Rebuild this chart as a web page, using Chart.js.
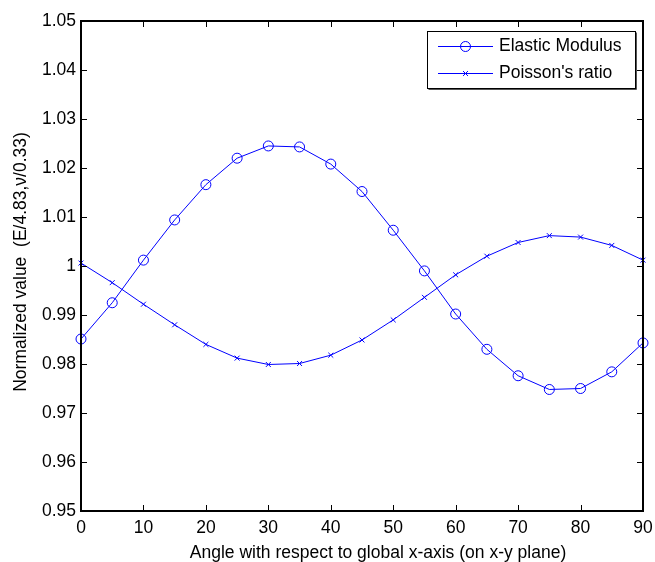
<!DOCTYPE html>
<html>
<head>
<meta charset="utf-8">
<script src="https://cdn.jsdelivr.net/npm/chart.js@4.4.0/dist/chart.umd.min.js"></script>
<style>
  html, body { margin: 0; padding: 0; background: #fff; }
</style>
</head>
<body>
<canvas id="myChart" width="655" height="562"></canvas>
<script>
var angles = [0, 5, 10, 15, 20, 25, 30, 35, 40, 45, 50, 55, 60, 65, 70, 75, 80, 85, 90];
var elasticModulus = [0.9851, 0.9925, 1.0012, 1.0094, 1.0166, 1.0220, 1.0245, 1.0243, 1.0208, 1.0152,
  1.0073, 0.9990, 0.9902, 0.9830, 0.9776, 0.9748, 0.9750, 0.9784, 0.9843];
var poissonRatio = [1.0006, 0.9966, 0.9922, 0.9880, 0.9840, 0.9812, 0.9799, 0.9801, 0.9818, 0.9849,
  0.9890, 0.9936, 0.9982, 1.0020, 1.0048, 1.0062, 1.0059, 1.0042, 1.0012];
var xTicks = [0, 10, 20, 30, 40, 50, 60, 70, 80, 90];
var yTicks = [0.95, 0.96, 0.97, 0.98, 0.99, 1.00, 1.01, 1.02, 1.03, 1.04, 1.05];
var yTickLabels = ["0.95", "0.96", "0.97", "0.98", "0.99", "1", "1.01", "1.02", "1.03", "1.04", "1.05"];
var seriesNames = ["Elastic Modulus", "Poisson's ratio"];
var xTitle = "Angle with respect to global x-axis (on x-y plane)";
var yTitle = "Normalized value  (E/4.83,\u03bd/0.33)";

var FAMILY = "'Liberation Sans', Arial, sans-serif";
var FSIZE = 17.5;
var BLUE = "#0000ff";

function marker(c, style, x, y, r) {
  c.beginPath();
  if (style === "circle") {
    c.arc(x, y, r, 0, Math.PI * 2);
  } else {
    var d = r * Math.SQRT1_2;
    c.moveTo(x - d, y - d); c.lineTo(x + d, y + d);
    c.moveTo(x + d, y - d); c.lineTo(x - d, y + d);
  }
  c.stroke();
}

// MATLAB style box, inward ticks, axis titles and legend
var matlabAxes = {
  id: "matlabAxes",
  afterDraw: function(chart) {
    var c = chart.ctx, a = chart.chartArea;
    var xs = chart.scales.x, ys = chart.scales.y;
    c.save();
    c.strokeStyle = "#000";
    c.lineWidth = 2;
    c.strokeRect(a.left, a.top, a.right - a.left, a.bottom - a.top);

    c.lineWidth = 1;
    c.beginPath();
    xTicks.forEach(function(v) {
      var px = Math.round(xs.getPixelForValue(v)) + 0.5;
      c.moveTo(px, a.bottom); c.lineTo(px, a.bottom - 6);
      c.moveTo(px, a.top); c.lineTo(px, a.top + 6);
    });
    yTicks.forEach(function(v) {
      var py = Math.round(ys.getPixelForValue(v)) + 0.5;
      c.moveTo(a.left, py); c.lineTo(a.left + 6, py);
      c.moveTo(a.right, py); c.lineTo(a.right - 6, py);
    });
    c.stroke();

    // axis titles
    c.fillStyle = "#000";
    c.font = FSIZE + "px " + FAMILY;
    c.textAlign = "center";
    c.textBaseline = "alphabetic";
    c.fillText(xTitle, 378, 558);
    c.save();
    c.translate(26, 262);
    c.rotate(-Math.PI / 2);
    c.fillText(yTitle, 0, 0);
    c.restore();

    // legend
    var lx = 427.5, ly = 31.5, lw = 208, lh = 57;
    c.fillStyle = "#fff";
    c.fillRect(lx, ly, lw, lh);
    c.strokeStyle = "#555";
    c.beginPath();
    c.moveTo(lx + lw + 1, ly + 1); c.lineTo(lx + lw + 1, ly + lh + 1); c.lineTo(lx + 1, ly + lh + 1);
    c.stroke();
    c.strokeStyle = "#000";
    c.strokeRect(lx, ly, lw, lh);
    chart.data.datasets.forEach(function(ds, i) {
      var ry = 46 + i * 27;
      c.strokeStyle = ds.borderColor;
      c.lineWidth = 1;
      c.beginPath();
      c.moveTo(438, ry + 0.5); c.lineTo(493, ry + 0.5);
      c.stroke();
      marker(c, ds.pointStyle, 465.5, ry + 0.5, ds.pointRadius);
      c.fillStyle = "#000";
      c.textAlign = "left";
      c.textBaseline = "middle";
      c.fillText(ds.label, 499, ry);
    });
    c.restore();
  }
};

var ctx = document.getElementById("myChart").getContext("2d");
var myChart = new Chart(ctx, {
  type: "line",
  data: {
    datasets: [{
      label: seriesNames[0],
      data: angles.map(function(a, i) { return { x: a, y: elasticModulus[i] }; }),
      borderColor: BLUE,
      borderWidth: 1,
      pointStyle: "circle",
      pointRadius: 5,
      pointBorderWidth: 1,
      pointBorderColor: BLUE,
      pointBackgroundColor: "rgba(0,0,0,0)",
      tension: 0,
      fill: false,
      clip: false
    }, {
      label: seriesNames[1],
      data: angles.map(function(a, i) { return { x: a, y: poissonRatio[i] }; }),
      borderColor: BLUE,
      borderWidth: 1,
      pointStyle: "crossRot",
      pointRadius: 3.5,
      pointBorderWidth: 1,
      pointBorderColor: BLUE,
      pointBackgroundColor: "rgba(0,0,0,0)",
      tension: 0,
      fill: false,
      clip: false
    }]
  },
  options: {
    responsive: false,
    animation: false,
    layout: { padding: { top: 21, right: 12, left: 0, bottom: 0 } },
    plugins: {
      legend: { display: false },
      tooltip: { enabled: false }
    },
    scales: {
      x: {
        type: "linear",
        min: 0,
        max: 90,
        afterBuildTicks: function(s) { s.ticks = xTicks.map(function(v) { return { value: v }; }); },
        afterFit: function(s) { s.height = 51; s.paddingLeft = 0; s.paddingRight = 0; },
        grid: { display: false, drawTicks: false },
        border: { display: false },
        ticks: {
          color: "#000",
          font: { family: FAMILY, size: FSIZE },
          padding: 7,
          maxRotation: 0,
          autoSkip: false,
          callback: function(v) { return String(v); }
        }
      },
      y: {
        type: "linear",
        min: 0.95,
        max: 1.05,
        afterBuildTicks: function(s) { s.ticks = yTicks.map(function(v) { return { value: v }; }); },
        afterFit: function(s) { s.width = 81; s.paddingTop = 0; s.paddingBottom = 0; },
        grid: { display: false, drawTicks: false },
        border: { display: false },
        ticks: {
          color: "#000",
          font: { family: FAMILY, size: FSIZE },
          padding: 5,
          autoSkip: false,
          callback: function(v, i) { return yTickLabels[i]; }
        }
      }
    }
  },
  plugins: [matlabAxes]
});
</script>
</body>
</html>
